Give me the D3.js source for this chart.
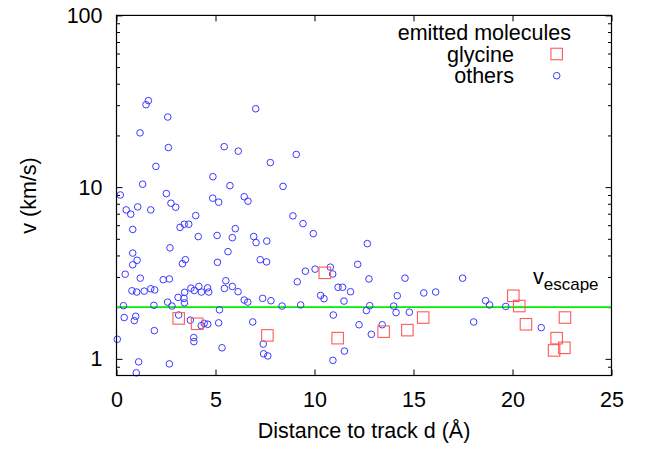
<!DOCTYPE html>
<html>
<head>
<meta charset="utf-8">
<script src="https://cdn.jsdelivr.net/npm/d3@7"></script>
<style>
  body { margin: 0; background: #fff; }
  svg { display: block; font-family: "Liberation Sans", Arial, Helvetica, sans-serif; }
</style>
</head>
<body>
<svg id="chart" width="655" height="449"></svg>
<script>
'use strict';

// distance to track d (Angstrom), velocity v (km/s)
var glycine = [
    [3.14, 1.72], [4.07, 1.60], [7.62, 1.37], [10.52, 3.17], [11.17, 1.32],
    [13.49, 1.44], [14.69, 1.47], [15.49, 1.74], [20.04, 2.33], [20.34, 2.03],
    [20.68, 1.59], [22.65, 1.74], [22.23, 1.32], [22.10, 1.12], [22.62, 1.16]
];

var others = [
    [1.61, 31.9], [1.49, 30.2], [2.59, 25.6], [1.19, 20.7], [2.62, 17.0],
    [1.99, 13.2], [5.44, 17.2], [6.15, 16.2], [4.87, 11.5], [5.73, 10.2],
    [1.32, 10.4], [0.19, 9.0], [2.52, 9.17], [2.75, 8.06], [2.99, 7.64],
    [0.49, 7.37], [0.72, 6.96], [1.07, 7.67], [1.73, 7.37], [4.86, 8.62],
    [5.16, 8.17], [4.00, 6.83], [3.21, 5.83], [3.42, 6.08], [3.65, 6.08],
    [0.82, 5.67], [6.00, 5.73], [7.03, 28.6], [9.08, 15.5], [7.77, 13.9],
    [8.41, 10.1], [6.45, 8.79], [6.64, 8.28], [8.91, 6.80], [9.42, 6.13],
    [4.13, 5.15], [5.08, 5.23], [5.85, 5.08], [2.70, 4.43], [0.82, 4.13],
    [1.04, 3.75], [0.82, 3.53], [3.33, 3.58], [3.48, 3.78], [5.63, 4.21],
    [5.10, 3.65], [0.44, 3.11], [1.20, 2.95], [2.36, 2.89], [2.67, 2.92],
    [5.52, 2.85], [0.78, 2.49], [1.02, 2.45], [1.40, 2.48], [1.73, 2.56],
    [1.93, 2.52], [3.44, 2.44], [3.76, 2.58], [3.93, 2.50], [4.16, 2.64],
    [4.29, 2.45], [4.60, 2.59], [4.66, 2.45], [5.45, 2.57], [5.85, 2.64],
    [6.14, 2.46], [3.11, 2.28], [3.41, 2.25], [3.43, 2.12], [2.58, 2.14],
    [2.80, 2.03], [0.35, 2.04], [1.89, 2.05], [5.20, 1.93], [0.39, 1.74],
    [0.97, 1.77], [0.90, 1.67], [3.14, 1.80], [3.73, 1.68], [4.43, 1.61],
    [4.61, 1.59], [4.28, 1.56], [5.16, 1.62], [1.91, 1.46], [0.04, 1.30],
    [3.90, 1.33], [3.91, 1.26], [5.33, 1.16], [1.12, 0.96], [2.67, 0.935],
    [1.00, 0.829], [6.93, 5.16], [7.05, 4.75], [7.59, 4.85], [7.26, 3.78],
    [7.58, 3.67], [7.38, 2.25], [7.80, 2.18], [6.45, 2.20], [6.63, 2.14],
    [9.94, 5.36], [9.54, 3.24], [10.03, 3.33], [10.80, 3.42], [10.92, 3.12],
    [12.18, 3.55], [9.13, 2.81], [10.31, 2.34], [10.48, 2.24], [11.19, 2.61],
    [11.42, 2.61], [11.82, 2.46], [11.49, 2.17], [8.36, 2.03], [9.30, 2.06],
    [6.88, 1.64], [10.95, 1.80], [12.25, 1.58], [7.41, 1.22], [7.43, 1.07],
    [7.64, 1.04], [11.51, 1.11], [10.93, 0.98], [12.67, 4.69], [12.75, 2.92],
    [14.57, 2.95], [17.48, 2.95], [14.18, 2.33], [15.52, 2.42], [16.12, 2.45],
    [12.79, 2.04], [12.62, 1.91], [14.00, 2.03], [14.12, 1.86], [14.79, 1.87],
    [18.64, 2.18], [18.84, 2.06], [13.42, 1.58], [12.87, 1.39], [18.04, 1.64],
    [19.66, 2.02], [21.45, 1.52]
];

var vEscape = 2.0;
var xTicks = [0, 5, 10, 15, 20, 25];
var yTicks = [1, 10, 100];
var legendLabels = ['emitted molecules', 'glycine', 'others'];

var margin = {left: 116.5, right: 611.5, top: 15.4, bottom: 375.5};
var fontSize = 21.5;

var svg = d3.select('#chart');

var x = d3.scaleLinear().domain([0, 25]).range([margin.left, margin.right]);
var y = d3.scaleLog().domain([0.8, 100]).range([margin.bottom, margin.top]);

// minor ticks 2..9 of each decade inside the domain
var yMinor = [];
[0.1, 1, 10].forEach(function (base) {
    for (var k = 2; k <= 9; k++) {
        var val = +(base * k).toFixed(3);
        if (val > 0.8 && val < 100 && yTicks.indexOf(val) < 0) yMinor.push(val);
    }
});

var styleAxis = function (g) {
    g.select('.domain').remove();
    g.selectAll('line').attr('stroke', '#000');
    g.selectAll('text').attr('font-size', fontSize).attr('fill', '#000')
        .attr('font-family', '"Liberation Sans", Arial, Helvetica, sans-serif');
};

svg.append('g').attr('transform', 'translate(0,' + margin.bottom + ')')
    .call(d3.axisBottom(x).tickValues(xTicks).tickSize(-6).tickPadding(16).tickFormat(d3.format('d')))
    .call(styleAxis);
svg.append('g').attr('transform', 'translate(0,' + margin.top + ')')
    .call(d3.axisTop(x).tickValues(xTicks).tickSize(-6).tickFormat(''))
    .call(styleAxis);
svg.append('g').attr('transform', 'translate(' + margin.left + ',0)')
    .call(d3.axisLeft(y).tickValues(yTicks).tickSize(-6).tickPadding(14).tickFormat(d3.format('d')))
    .call(styleAxis);
svg.append('g').attr('transform', 'translate(' + margin.left + ',0)')
    .call(d3.axisLeft(y).tickValues(yMinor).tickSize(-3.5).tickFormat(''))
    .call(styleAxis);
svg.append('g').attr('transform', 'translate(' + margin.right + ',0)')
    .call(d3.axisRight(y).tickValues(yTicks).tickSize(-6).tickFormat(''))
    .call(styleAxis);
svg.append('g').attr('transform', 'translate(' + margin.right + ',0)')
    .call(d3.axisRight(y).tickValues(yMinor).tickSize(-3.5).tickFormat(''))
    .call(styleAxis);

// escape velocity line
svg.append('line')
    .attr('x1', x(0)).attr('x2', x(25))
    .attr('y1', y(vEscape)).attr('y2', y(vEscape))
    .attr('stroke', '#00ee00').attr('stroke-width', 1.6);

var vLabel = svg.append('text')
    .attr('x', 533).attr('y', y(vEscape) - 23)
    .attr('font-size', fontSize).attr('fill', '#000');
vLabel.append('tspan').text('v');
vLabel.append('tspan').attr('dy', 6).attr('font-size', 17).text('escape');

// data points
svg.append('g').selectAll('circle').data(others).enter().append('circle')
    .attr('cx', function (d) { return x(d[0]); })
    .attr('cy', function (d) { return y(d[1]); })
    .attr('r', 3.3)
    .attr('fill', 'none').attr('stroke', '#3a3aff').attr('stroke-width', 1);

var sq = 11.5;
svg.append('g').selectAll('rect').data(glycine).enter().append('rect')
    .attr('x', function (d) { return x(d[0]) - sq / 2; })
    .attr('y', function (d) { return y(d[1]) - sq / 2; })
    .attr('width', sq).attr('height', sq)
    .attr('fill', 'none').attr('stroke', '#ff5a5a').attr('stroke-width', 1.1);

// frame
svg.append('rect')
    .attr('x', margin.left).attr('y', margin.top)
    .attr('width', margin.right - margin.left).attr('height', margin.bottom - margin.top)
    .attr('fill', 'none').attr('stroke', '#000').attr('stroke-width', 1.2);

// legend
var legend = svg.append('g').attr('font-size', fontSize).attr('fill', '#000').attr('text-anchor', 'end');
legend.append('text').attr('x', 571).attr('y', 40).text(legendLabels[0]);
legend.append('text').attr('x', 514).attr('y', 61.5).text(legendLabels[1]);
legend.append('text').attr('x', 514).attr('y', 83).text(legendLabels[2]);
legend.append('rect').attr('x', 556.7 - sq / 2).attr('y', 54 - sq / 2)
    .attr('width', sq).attr('height', sq)
    .attr('fill', 'none').attr('stroke', '#ff5a5a').attr('stroke-width', 1.1);
legend.append('circle').attr('cx', 556.7).attr('cy', 75.7).attr('r', 3.3)
    .attr('fill', 'none').attr('stroke', '#3a3aff').attr('stroke-width', 1);

// axis titles
svg.append('text')
    .attr('x', (margin.left + margin.right) / 2).attr('y', 438)
    .attr('text-anchor', 'middle').attr('font-size', fontSize)
    .text('Distance to track d (Å)');
svg.append('text')
    .attr('transform', 'translate(36,' + ((margin.top + margin.bottom) / 2) + ') rotate(-90)')
    .attr('text-anchor', 'middle').attr('font-size', fontSize)
    .text('v (km/s)');
</script>
</body>
</html>
